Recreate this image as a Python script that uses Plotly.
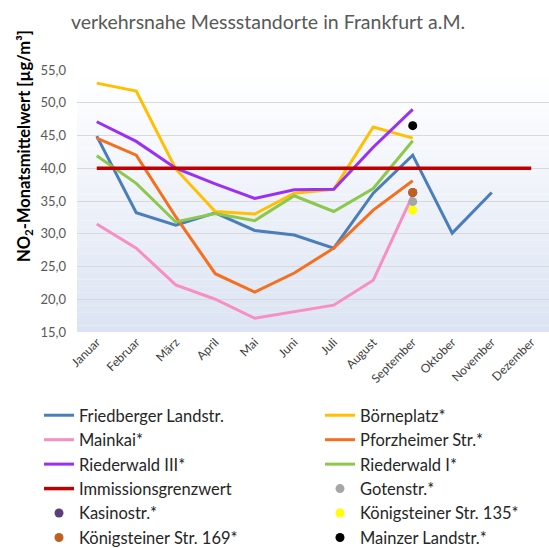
import plotly.graph_objects as go

months = ["Januar", "Februar", "März", "April", "Mai", "Juni", "Juli",
          "August", "September", "Oktober", "November", "Dezember"]

friedberger = [44.9, 33.2, 31.3, 33.2, 30.5, 29.8, 27.8, 36.2, 42.0, 30.1, 36.3, None]
boerneplatz = [53.0, 51.8, 39.9, 33.4, 33.0, 36.2, 36.8, 46.3, 44.6]
mainkai = [31.5, 27.8, 22.2, 20.0, 17.1, 18.1, 19.1, 22.9, 35.9]
pforzheimer = [44.6, 42.0, 32.6, 23.9, 21.1, 24.0, 27.8, 33.6, 38.1]
riederwald_3 = [47.1, 44.1, 40.0, 37.6, 35.4, 36.7, 36.8, 43.2, 49.0]
riederwald_1 = [41.9, 37.7, 31.8, 33.1, 32.0, 35.8, 33.4, 36.9, 44.2]
grenzwert = [40.0] * 12

gotenstr = [34.9]
kasinostr = [36.3]
koenigsteiner_135 = [33.6]
koenigsteiner_169 = [36.3]
mainzer_landstr = [46.5]

y_ticks = [15, 20, 25, 30, 35, 40, 45, 50, 55]

FONT = "Lato"

fig = go.Figure()

# (name, values, colour, legend column)
line_series = [
    ("Friedberger Landstr.", friedberger, "#4a7ebb", "legend"),
    ("Börneplatz*", boerneplatz, "#ffc000", "legend2"),
    ("Mainkai*", mainkai, "#f78fc3", "legend"),
    ("Pforzheimer Str.*", pforzheimer, "#f4701e", "legend2"),
    ("Riederwald III*", riederwald_3, "#9b30f5", "legend"),
    ("Riederwald I*", riederwald_1, "#8cc84b", "legend2"),
    ("Immissionsgrenzwert", grenzwert, "#c00000", "legend"),
]
for name, vals, col, leg in line_series:
    fig.add_trace(go.Scatter(
        x=months[:len(vals)], y=vals, name=name, mode="lines", legend=leg,
        line=dict(color=col, width=3.5 if name == "Immissionsgrenzwert" else 3),
        connectgaps=False,
    ))

dot_series = [
    ("Gotenstr.*", gotenstr, "#a6a6a6", "legend2"),
    ("Kasinostr.*", kasinostr, "#5a3f78", "legend"),
    ("Königsteiner Str. 135*", koenigsteiner_135, "#ffff00", "legend2"),
    ("Königsteiner Str. 169*", koenigsteiner_169, "#c0601e", "legend"),
    ("Mainzer Landstr.*", mainzer_landstr, "#000000", "legend2"),
]
for name, vals, col, leg in dot_series:
    fig.add_trace(go.Scatter(
        x=["September"] * len(vals), y=vals, name=name, mode="markers",
        legend=leg, marker=dict(color=col, size=9),
    ))

# vertical background gradient inside the plot area
n_strips = 40
top_rgb = (255, 255, 255)
bot_rgb = (220, 228, 243)
for i in range(n_strips):
    t = i / (n_strips - 1)
    r, g, b = (round(bot_rgb[k] + (top_rgb[k] - bot_rgb[k]) * t) for k in range(3))
    y0 = 15 + 40 * i / n_strips
    y1 = 15 + 40 * (i + 1) / n_strips
    fig.add_shape(type="rect", xref="x domain", yref="y", x0=0, x1=1,
                  y0=y0, y1=y1, fillcolor=f"rgb({r},{g},{b})",
                  line=dict(width=0), layer="below")

W, H = 549, 548
ML, MR, MT, MB = 77, 0, 70, 216
PW, PH = W - ML - MR, H - MT - MB

legend_style = dict(
    orientation="v", xref="container", yref="container",
    xanchor="left", yanchor="top", y=1 - 398 / H,
    font=dict(family=FONT, size=16.5, color="#262626"),
    bgcolor="rgba(0,0,0,0)", itemwidth=30, traceorder="normal",
)

fig.update_layout(
    width=W, height=H,
    margin=dict(l=ML, r=MR, t=MT, b=MB, autoexpand=False),
    paper_bgcolor="white",
    plot_bgcolor="rgba(0,0,0,0)",
    separators=",.",
    font=dict(family=FONT, size=13, color="#404040"),
    title=dict(text="verkehrsnahe Messstandorte in Frankfurt a.M.",
               x=268 / W, xanchor="center", xref="container",
               y=1 - 22 / H, yanchor="middle", yref="container",
               font=dict(family=FONT, size=19.5, color="#595959")),
    xaxis=dict(type="category", categoryarray=months, categoryorder="array",
               range=[-0.5, 11.45], tickangle=-45, showgrid=False,
               ticks="", tickfont=dict(size=12, color="#404040")),
    yaxis=dict(range=[15, 55], tickvals=y_ticks, tickformat=".1f",
               showgrid=True, gridcolor="#d9d9d9", gridwidth=1,
               zeroline=False, ticks="", ticklabelstandoff=10,
               tickfont=dict(size=13, color="#595959")),
    legend=dict(x=39 / W, **legend_style),
    legend2=dict(x=320 / W, **legend_style),
    showlegend=True,
)

fig.add_annotation(
    text="<b>NO<sub>2</sub>-Monatsmittelwert [µg/m³]</b>",
    textangle=-90, xref="paper", yref="paper",
    x=-(ML - 24) / PW, y=(332 - 146) / PH,
    xanchor="center", yanchor="middle", showarrow=False,
    font=dict(family=FONT, size=16.5, color="#000000"),
)

fig.write_html("out.html")
